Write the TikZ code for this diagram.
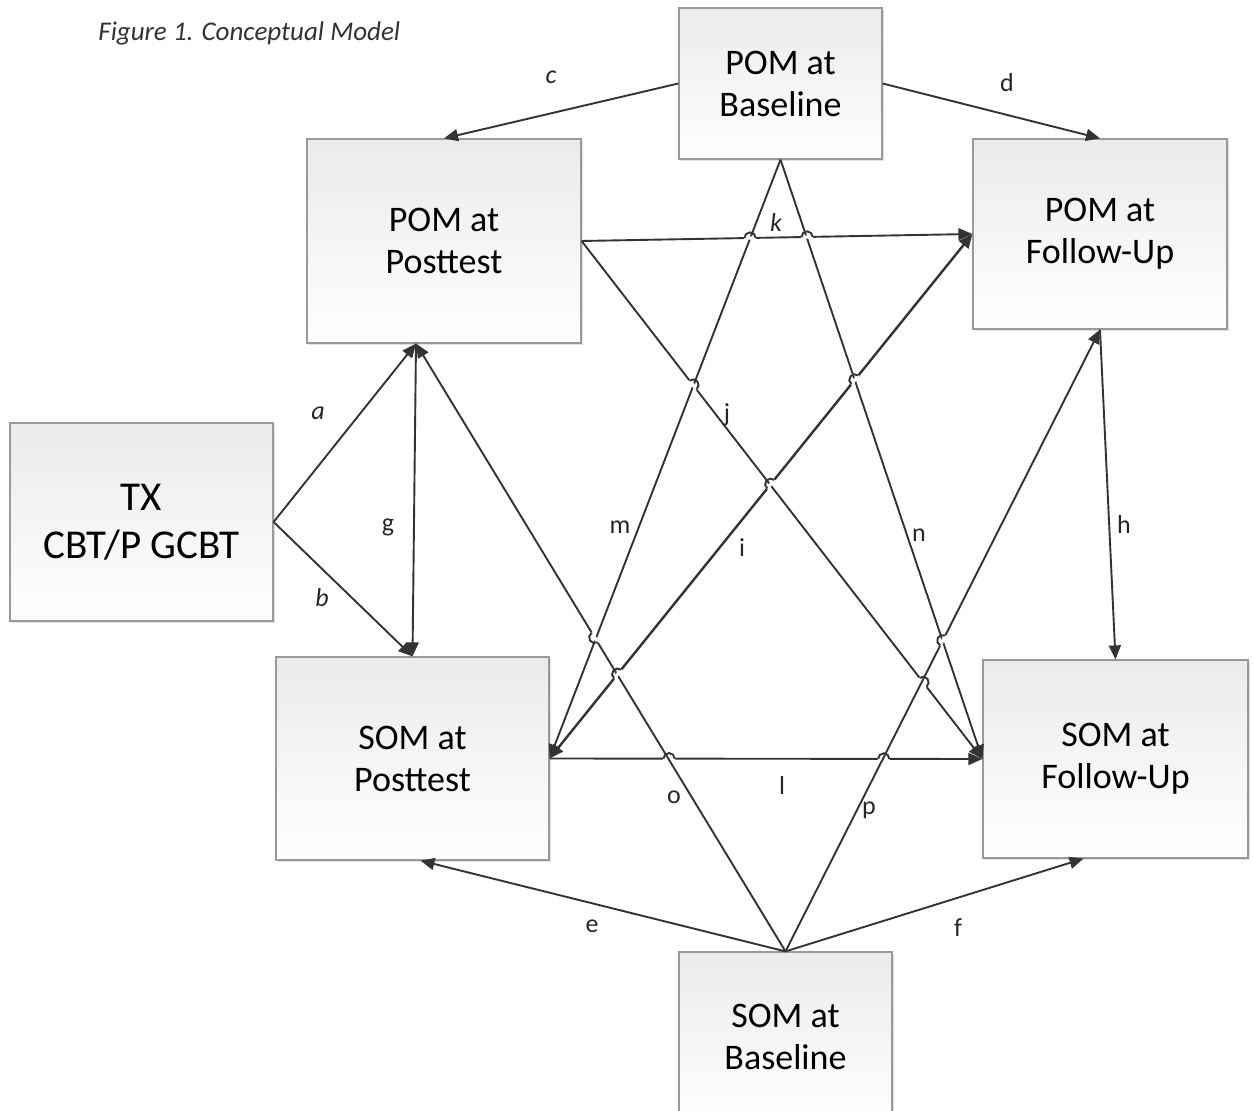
\documentclass[tikz,border=0pt]{standalone}
\usepackage{fontspec}
\setmainfont{Carlito}
\usetikzlibrary{arrows.meta,decorations.markings,shadows}

\begin{document}
\begin{tikzpicture}[x=0.5pt,y=-0.5pt,>={Triangle[length=7pt,width=6pt]},
	box/.style={draw=black!40,line width=0.6pt,top color=black!8,bottom color=white,align=center,inner sep=0pt,
		font=\fontsize{18}{21}\selectfont,drop shadow={shadow xshift=1pt,shadow yshift=-1pt,opacity=0.25}},
	conn/.style={draw=black!80,line width=0.95pt,->},
	lbl/.style={font=\fontsize{13}{15}\selectfont,text=black!85},
	lbli/.style={font=\fontsize{13}{15}\selectfont\itshape,text=black!85},
	jump/.style={postaction={decorate,decoration={markings,mark=at position #1 with {
		\fill[white] (-3pt,-0.8pt) rectangle (3pt,0.8pt);
		\draw[arrows=-,black!80,line width=0.95pt] (-2.8pt,0) arc (180:0:2.8pt);}}}}]
	\useasboundingbox (0,0) rectangle (1253,1111);
	\clip (0,0) rectangle (1253,1111);
	\node[anchor=west,inner sep=0pt,font=\fontsize{13.5}{15}\selectfont\itshape,text=black!80] (title) at (98,33) {Figure 1. Conceptual Model};
	% boxes
	\node[box,minimum width=101.5pt,minimum height=75.5pt] (pombase) at (780.5,83.5) {POM at\\Baseline};
	\node[box,minimum width=137pt,minimum height=102pt] (pompost) at (444,241) {POM at\\Posttest};
	\node[box,minimum width=127pt,minimum height=95pt] (pomfu) at (1100,234) {POM at\\Follow-Up};
	\node[box,minimum width=131.5pt,minimum height=99pt,font=\fontsize{20.5}{24}\selectfont] (tx) at (141.5,522) {TX\\CBT/P GCBT};
	\node[box,minimum width=136.5pt,minimum height=101.5pt] (sompost) at (412.5,758.5) {SOM at\\Posttest};
	\node[box,minimum width=132.5pt,minimum height=99pt] (somfu) at (1115.5,759) {SOM at\\Follow-Up};
	\node[box,minimum width=106.5pt,minimum height=85pt] (sombase) at (785.5,1037) {SOM at\\Baseline};
	\coordinate (pp-s) at ([xshift=-14pt]pompost.south);
	\coordinate (sp-s) at ([xshift=4pt]sompost.south);
	\coordinate (sf-s) at ([xshift=-16pt]somfu.south);
	% paths
	\draw[conn] (pombase.west) -- (pompost.north);
	\draw[conn] (pombase.east) -- (pomfu.north);
	\draw[conn] (tx.east) -- (pp-s);
	\draw[conn] (tx.east) -- (sompost.north);
	\draw[conn] (pp-s) -- (sompost.north);
	\draw[conn] (pomfu.south) -- (somfu.north);
	\draw[conn] (sombase.north) -- (sp-s);
	\draw[conn] (sombase.north) -- (sf-s);
	\draw[conn] (pombase.south) -- (sompost.east);
	\draw[conn] (pombase.south) -- (somfu.west);
	\draw[conn,jump=0.431,jump=0.577] (pompost.east) -- (pomfu.west);
	\draw[conn,jump=0.278,jump=0.852] (pompost.east) -- (somfu.west);
	\draw[conn,jump=0.276,jump=0.772] (sompost.east) -- (somfu.west);
	\draw[conn,jump=0.5165] (sombase.north) -- (pp-s);
	\draw[conn,jump=0.5] (sombase.north) -- (pomfu.south);
	\draw[conn,<->,line width=1.2pt,jump=0.161,jump=0.523,jump=0.722] (sompost.east) -- (pomfu.west);
	% labels
	\node[lbli] (lc) at (551,77) {c};
	\node[lbl] (ld) at (1007,83) {d};
	\node[lbli] (la) at (318,413) {a};
	\node[lbli] (lb) at (322,598) {b};
	\node[lbl] (lg) at (388,527) {g};
	\node[lbl] (lh) at (1124,524) {h};
	\node[lbl] (le) at (592,926) {e};
	\node[lbl] (lf) at (958,928) {f};
	\node[lbli] (lk) at (776,222) {k};
	\node[lbl] (lj) at (727,415) {j};
	\node[lbl] (li) at (742,548) {i};
	\node[lbl] (lm) at (620,527) {m};
	\node[lbl] (ln) at (919,535) {n};
	\node[lbl] (lo) at (674,797) {o};
	\node[lbl] (lp) at (869,810) {p};
	\node[lbl] (ll) at (782,785) {l};
\end{tikzpicture}
\end{document}
